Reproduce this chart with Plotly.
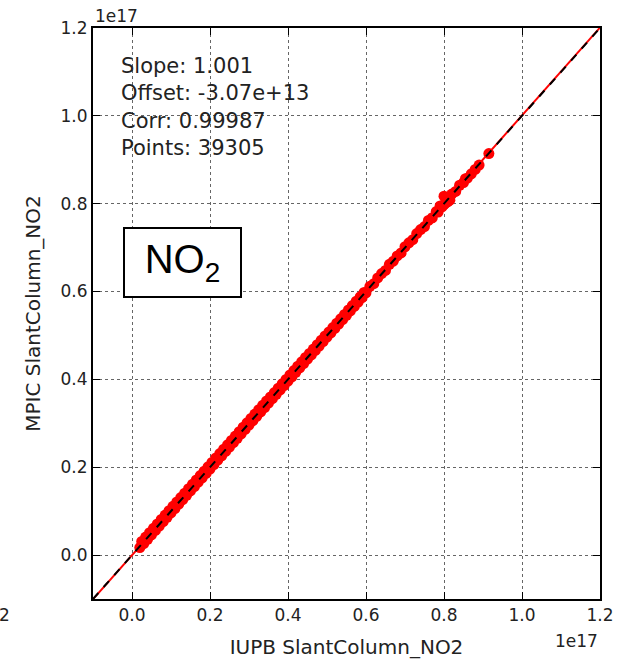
import plotly.graph_objects as go

# values in units of 1e17 molec/cm2
iupb_x = [0.02, 0.025, 0.03, 0.035, 0.04, 0.045, 0.05, 0.055, 0.06, 0.065, 0.07, 0.075, 0.08, 0.085,
          0.09, 0.095, 0.10, 0.105, 0.11, 0.115, 0.12, 0.125, 0.13, 0.135, 0.14, 0.145, 0.15, 0.155,
          0.16, 0.165, 0.17, 0.175, 0.18, 0.185, 0.19, 0.195, 0.20, 0.205, 0.21, 0.215, 0.22, 0.225,
          0.23, 0.235, 0.24, 0.245, 0.25, 0.255, 0.26, 0.265, 0.27, 0.275, 0.28, 0.285, 0.29, 0.295,
          0.30, 0.305, 0.31, 0.315, 0.32, 0.325, 0.33, 0.335, 0.34, 0.345, 0.35, 0.355, 0.36, 0.365,
          0.37, 0.375, 0.38, 0.385, 0.39, 0.395, 0.40, 0.405, 0.41, 0.415, 0.42, 0.425, 0.43, 0.435,
          0.44, 0.445, 0.45, 0.455, 0.46, 0.465, 0.47, 0.475, 0.48, 0.485, 0.49, 0.495, 0.50, 0.505,
          0.51, 0.515, 0.52, 0.525, 0.53, 0.535, 0.54, 0.545, 0.55, 0.555, 0.56, 0.565, 0.57, 0.575,
          0.58, 0.585, 0.59, 0.595, 0.60, 0.61, 0.62, 0.63, 0.64, 0.65, 0.66, 0.67, 0.68, 0.69,
          0.70, 0.71, 0.72, 0.73, 0.74, 0.75, 0.76, 0.77, 0.78, 0.785, 0.79, 0.795, 0.80, 0.80,
          0.805, 0.81, 0.815, 0.82, 0.83, 0.84, 0.85, 0.855, 0.86, 0.87, 0.88, 0.89, 0.915]
mpic_y = [0.017, 0.031, 0.026, 0.041, 0.036, 0.051, 0.046, 0.061, 0.056, 0.071, 0.066, 0.081, 0.076, 0.091,
          0.086, 0.101, 0.096, 0.111, 0.106, 0.121, 0.116, 0.131, 0.126, 0.141, 0.136, 0.151, 0.146, 0.161,
          0.156, 0.171, 0.166, 0.181, 0.176, 0.191, 0.186, 0.201, 0.196, 0.211, 0.206, 0.221, 0.216, 0.231,
          0.226, 0.241, 0.236, 0.251, 0.246, 0.261, 0.256, 0.271, 0.266, 0.281, 0.276, 0.291, 0.286, 0.301,
          0.296, 0.311, 0.306, 0.321, 0.316, 0.331, 0.326, 0.341, 0.336, 0.351, 0.346, 0.360, 0.356, 0.370,
          0.366, 0.380, 0.376, 0.390, 0.386, 0.400, 0.396, 0.410, 0.406, 0.420, 0.416, 0.430, 0.426, 0.440,
          0.436, 0.450, 0.446, 0.459, 0.456, 0.469, 0.466, 0.479, 0.476, 0.489, 0.486, 0.499, 0.496, 0.508,
          0.506, 0.518, 0.516, 0.528, 0.526, 0.538, 0.536, 0.548, 0.546, 0.558, 0.556, 0.568, 0.566, 0.578,
          0.576, 0.588, 0.586, 0.598, 0.597, 0.612, 0.618, 0.631, 0.641, 0.648, 0.662, 0.669, 0.681, 0.688,
          0.702, 0.711, 0.718, 0.732, 0.741, 0.748, 0.762, 0.768, 0.782, 0.781, 0.795, 0.793, 0.798, 0.817,
          0.802, 0.805, 0.808, 0.822, 0.828, 0.842, 0.848, 0.857, 0.858, 0.868, 0.878, 0.888, 0.914]

slope = 1.001
offset = -3.07e13 / 1e17
corr = 0.99987
n_points = 39305

axis_range = [-0.1, 1.2]
tick_vals = [0.0, 0.2, 0.4, 0.6, 0.8, 1.0, 1.2]

fit_y = [slope * v + offset for v in axis_range]

fig = go.Figure()
fig.add_trace(go.Scatter(x=axis_range, y=fit_y, mode='lines',
                         line=dict(color='red', width=2), showlegend=False))
fig.add_trace(go.Scatter(x=iupb_x, y=mpic_y, mode='markers',
                         marker=dict(color='red', size=11, line=dict(width=0)),
                         showlegend=False))
fig.add_trace(go.Scatter(x=axis_range, y=axis_range, mode='lines',
                         line=dict(color='black', width=2, dash='8px,8px'), showlegend=False))

axis_style = dict(range=axis_range, tickvals=tick_vals, tickformat='.1f', automargin=False,
                  showline=True, linecolor='black', linewidth=2, mirror='ticks',
                  ticks='inside', ticklen=7, tickcolor='black',
                  showgrid=True, gridcolor='#666666', griddash='dot', gridwidth=1,
                  zeroline=False, tickfont=dict(size=17, color='#222222'))

fig.update_layout(
    template='none',
    width=623, height=662,
    margin=dict(l=93, r=23, t=28, b=63),
    plot_bgcolor='white', paper_bgcolor='white',
    font=dict(family='DejaVu Sans', color='#222222'),
    xaxis=dict(axis_style, title=dict(text='IUPB SlantColumn_NO2', font=dict(size=20), standoff=16)),
    yaxis=dict(axis_style, title=dict(text='MPIC SlantColumn_NO2', font=dict(size=20), standoff=15)),
)

stats_text = (f'Slope: {slope:.3f}<br>Offset: {offset * 1e17:.2e}<br>'
              f'Corr: {corr}<br>Points: {n_points}')
fig.add_annotation(x=0.052, y=0.958, xref='paper', yref='paper', xanchor='left', yanchor='top',
                   text=stats_text, showarrow=False, align='left',
                   font=dict(size=21, family='DejaVu Sans', color='#222222'))

fig.add_annotation(x=0.13, y=0.666, xref='x', yref='y', text='NO<sub>2</sub>', showarrow=False,
                   font=dict(size=40, family='Liberation Sans', color='black'),
                   width=115, height=67, borderpad=0,
                   bordercolor='black', borderwidth=2, bgcolor='white')

fig.add_annotation(x=0, y=1, xref='paper', yref='paper', xanchor='left', yanchor='bottom',
                   text='1e17', showarrow=False, font=dict(size=17))
fig.add_annotation(x=1, y=0, xref='paper', yref='paper', xanchor='right', yanchor='top',
                   yshift=-30, text='1e17', showarrow=False, font=dict(size=17))
fig.add_annotation(x=0, y=0, xref='paper', yref='paper', xanchor='left', yanchor='top',
                   xshift=-96, yshift=-4, text='2', showarrow=False, font=dict(size=17))

fig.write_html("out.html", config={'displayModeBar': False},
               post_script="document.body.style.margin = '0px';")
